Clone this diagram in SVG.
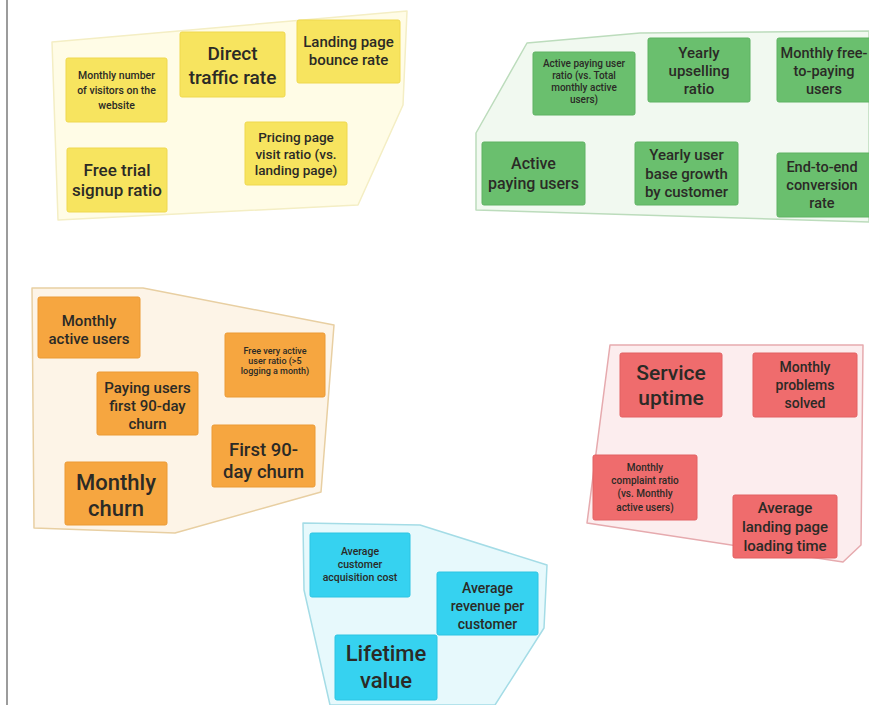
<svg xmlns="http://www.w3.org/2000/svg" width="869" height="705" viewBox="0 0 869 705">
<style>
text{font-family:Roboto,"Liberation Sans",sans-serif;font-weight:500;fill:#2b2a26;text-anchor:middle}
.zone{stroke-width:1.5;stroke-linejoin:round}
.zy{fill:#fffce6;stroke:#f4eec4}
.zg{fill:#f1f9f0;stroke:#bcdcbc}
.zo{fill:#fdf4e7;stroke:#e8cfa2}
.zr{fill:#fcedee;stroke:#e6aaae}
.zc{fill:#e7f9fc;stroke:#a4dce6}
.n{rx:2;stroke-width:1}
.y{fill:#f7e45f;stroke:#efd84f}
.g{fill:#6abf6e;stroke:#5fb263}
.o{fill:#f6a640;stroke:#eb9a35}
.r{fill:#ef6c6d;stroke:#e26062}
.c{fill:#36d2f0;stroke:#2cc4e2}
</style>
<rect width="869" height="705" fill="#ffffff"/>
<line x1="7" y1="0" x2="7" y2="705" stroke="#9c9c9c" stroke-width="2"/>

<g id="zones">
<polygon class="zone zy" points="52,42 407,11 403,105 358,205 58,220"/>
<polygon class="zone zg" points="527,43 640,33 869,31 869,222 476,210 476,133"/>
<polygon class="zone zo" points="32,288 143,288 334,325 321,492 175,533 34,528"/>
<polygon class="zone zr" points="610,345 863,345 861,545 843,562 587,523"/>
<polygon class="zone zc" points="303,523 420,525 547,565 544,628 495,705 330,705 304,590"/>
</g>

<g id="connectors"/>

<g id="monthly-visitors"><rect class="n y" x="66" y="58" width="101" height="64"/>
<text font-size="10.5"><tspan x="116.5" y="79">Monthly number</tspan><tspan x="116.5" y="94">of visitors on the</tspan><tspan x="116.5" y="109">website</tspan></text></g>
<g id="direct-traffic"><rect class="n y" x="180" y="32" width="105" height="65"/>
<text font-size="19"><tspan x="232.5" y="60">Direct</tspan><tspan x="232.5" y="84">traffic rate</tspan></text></g>
<g id="bounce-rate"><rect class="n y" x="297" y="20" width="103" height="63"/>
<text font-size="15"><tspan x="348.5" y="47">Landing page</tspan><tspan x="348.5" y="65">bounce rate</tspan></text></g>
<g id="pricing-visit"><rect class="n y" x="245" y="122" width="102" height="63"/>
<text font-size="13.5"><tspan x="296" y="142">Pricing page</tspan><tspan x="296" y="158.5">visit ratio (vs.</tspan><tspan x="296" y="175">landing page)</tspan></text></g>
<g id="free-trial"><rect class="n y" x="67" y="148" width="100" height="64"/>
<text font-size="17"><tspan x="117" y="176">Free trial</tspan><tspan x="117" y="196">signup ratio</tspan></text></g>

<g id="active-paying-ratio"><rect class="n g" x="533" y="52" width="102" height="63"/>
<text font-size="10"><tspan x="584" y="67">Active paying user</tspan><tspan x="584" y="79">ratio (vs. Total</tspan><tspan x="584" y="91">monthly active</tspan><tspan x="584" y="103">users)</tspan></text></g>
<g id="yearly-upselling"><rect class="n g" x="648" y="38" width="102" height="64"/>
<text font-size="15"><tspan x="699" y="58">Yearly</tspan><tspan x="699" y="76">upselling</tspan><tspan x="699" y="94">ratio</tspan></text></g>
<g id="free-to-paying"><rect class="n g" x="777" y="38" width="95" height="64"/>
<text font-size="14.5"><tspan x="824" y="58">Monthly free-</tspan><tspan x="824" y="76">to-paying</tspan><tspan x="824" y="94">users</tspan></text></g>
<g id="active-paying"><rect class="n g" x="482" y="142" width="103" height="63"/>
<text font-size="16"><tspan x="533.5" y="169">Active</tspan><tspan x="533.5" y="189">paying users</tspan></text></g>
<g id="user-base-growth"><rect class="n g" x="635" y="142" width="103" height="63"/>
<text font-size="15"><tspan x="686.5" y="160">Yearly user</tspan><tspan x="686.5" y="178.5">base growth</tspan><tspan x="686.5" y="197">by customer</tspan></text></g>
<g id="end-to-end"><rect class="n g" x="777" y="153" width="95" height="64"/>
<text font-size="14.5"><tspan x="822" y="172">End-to-end</tspan><tspan x="822" y="190">conversion</tspan><tspan x="822" y="208">rate</tspan></text></g>

<g id="monthly-active"><rect class="n o" x="38" y="297" width="102" height="61"/>
<text font-size="15"><tspan x="89" y="326">Monthly</tspan><tspan x="89" y="344">active users</tspan></text></g>
<g id="free-very-active"><rect class="n o" x="225" y="333" width="100" height="64"/>
<text font-size="9"><tspan x="275" y="354">Free very active</tspan><tspan x="275" y="364">user ratio (&gt;5</tspan><tspan x="275" y="374">logging a month)</tspan></text></g>
<g id="paying-90-churn"><rect class="n o" x="97" y="372" width="101" height="63"/>
<text font-size="15"><tspan x="147.5" y="393">Paying users</tspan><tspan x="147.5" y="411">first 90-day</tspan><tspan x="147.5" y="429">churn</tspan></text></g>
<g id="first-90-churn"><rect class="n o" x="212" y="425" width="103" height="62"/>
<text font-size="18.5"><tspan x="263.5" y="456">First 90-</tspan><tspan x="263.5" y="478">day churn</tspan></text></g>
<g id="monthly-churn"><rect class="n o" x="65" y="462" width="102" height="63"/>
<text font-size="22"><tspan x="116" y="490">Monthly</tspan><tspan x="116" y="516">churn</tspan></text></g>

<g id="service-uptime"><rect class="n r" x="620" y="353" width="102" height="64"/>
<text font-size="21"><tspan x="671" y="380">Service</tspan><tspan x="671" y="405">uptime</tspan></text></g>
<g id="problems-solved"><rect class="n r" x="753" y="353" width="104" height="64"/>
<text font-size="14"><tspan x="805" y="372">Monthly</tspan><tspan x="805" y="390">problems</tspan><tspan x="805" y="408">solved</tspan></text></g>
<g id="complaint-ratio"><rect class="n r" x="593" y="455" width="104" height="65"/>
<text font-size="10"><tspan x="645" y="470.5">Monthly</tspan><tspan x="645" y="483.5">complaint ratio</tspan><tspan x="645" y="496.5">(vs. Monthly</tspan><tspan x="645" y="510.5">active users)</tspan></text></g>
<g id="page-loading"><rect class="n r" x="733" y="495" width="104" height="63"/>
<text font-size="15"><tspan x="785" y="513">Average</tspan><tspan x="785" y="532">landing page</tspan><tspan x="785" y="551">loading time</tspan></text></g>

<g id="acquisition-cost"><rect class="n c" x="310" y="533" width="100" height="64"/>
<text font-size="10.5"><tspan x="360" y="555">Average</tspan><tspan x="360" y="568">customer</tspan><tspan x="360" y="581">acquisition cost</tspan></text></g>
<g id="revenue-per-customer"><rect class="n c" x="437" y="572" width="101" height="63"/>
<text font-size="14"><tspan x="487.5" y="593">Average</tspan><tspan x="487.5" y="611">revenue per</tspan><tspan x="487.5" y="629">customer</tspan></text></g>
<g id="lifetime-value"><rect class="n c" x="335" y="635" width="102" height="65"/>
<text font-size="22"><tspan x="386" y="661">Lifetime</tspan><tspan x="386" y="688">value</tspan></text></g>
</svg>
